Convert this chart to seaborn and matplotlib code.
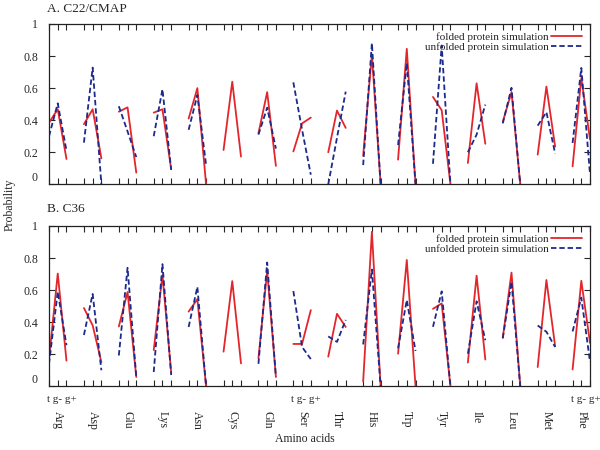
import numpy as np
import pandas as pd
import seaborn as sns
import matplotlib.pyplot as plt

# Data: probability of t / g- / g+ states per amino acid
amino_acids = ['Arg', 'Asp', 'Glu', 'Lys', 'Asn', 'Cys', 'Gln', 'Ser',
               'Thr', 'His', 'Trp', 'Tyr', 'Ile', 'Leu', 'Met', 'Phe']
states = ['t', 'g-', 'g+']
state_label_groups = ['Arg', 'Ser', 'Phe']
nan = np.nan

c22_folded = [[0.385, 0.468, 0.158], [0.375, 0.468, 0.162], [0.453, 0.48, 0.073],
              [0.447, 0.468, 0.094], [0.41, 0.60, 0.0], [0.214, 0.64, 0.173],
              [0.318, 0.575, 0.115], [0.205, 0.38, 0.416], [0.20, 0.46, 0.352],
              [0.178, 0.81, 0.0], [0.154, 0.845, 0.0], [0.545, 0.462, 0.0],
              [0.133, 0.63, 0.253], [0.39, 0.575, 0.0], [0.185, 0.61, 0.235],
              [0.112, 0.663, 0.28]]
c22_unfolded = [[0.30, 0.505, 0.21], [0.26, 0.728, 0.0], [0.487, 0.33, 0.17],
                [0.30, 0.593, 0.09], [0.34, 0.557, 0.12], [nan, nan, nan],
                [0.31, 0.478, 0.223], [0.636, 0.34, 0.06], [0.0, 0.29, 0.578],
                [0.12, 0.88, 0.0], [0.245, 0.757, 0.0], [0.128, 0.866, 0.0],
                [0.2, 0.31, 0.497], [0.38, 0.602, 0.0], [0.366, 0.45, 0.192],
                [0.258, 0.726, 0.06]]
c36_folded = [[0.17, 0.703, 0.16], [0.488, 0.38, 0.15], [0.373, 0.588, 0.058],
              [0.226, 0.694, 0.085], [0.466, 0.543, 0.0], [0.216, 0.656, 0.143],
              [0.175, 0.72, 0.058], [0.264, 0.264, 0.475], [0.185, 0.452, 0.37],
              [0.03, 0.963, 0.0], [0.203, 0.788, 0.0], [0.483, 0.517, 0.0],
              [0.148, 0.69, 0.167], [0.302, 0.709, 0.0], [0.12, 0.663, 0.25],
              [0.105, 0.658, 0.27]]
c36_unfolded = [[0.14, 0.59, 0.256], [0.32, 0.576, 0.10], [0.192, 0.739, 0.058],
                [0.089, 0.762, 0.07], [0.37, 0.62, 0.0], [nan, nan, nan],
                [0.14, 0.772, 0.06], [0.594, 0.245, 0.17], [0.311, 0.277, 0.414],
                [0.261, 0.728, 0.0], [0.237, 0.538, 0.22], [0.371, 0.592, 0.0],
                [0.203, 0.53, 0.287], [0.30, 0.652, 0.0], [0.379, 0.34, 0.245],
                [0.342, 0.553, 0.152]]

FOLD = 'folded protein simulation'
UNFOLD = 'unfolded protein simulation'
red = '#e3262b'
blue = '#1c2a8c'


def make_df(folded, unfolded):
    rows = []
    for label, vals in [(FOLD, folded), (UNFOLD, unfolded)]:
        for i, aa in enumerate(amino_acids):
            for j, st in enumerate(states):
                rows.append({'aa': aa, 'pos': i * 4 + j, 'prob': vals[i][j], 'sim': label})
    return pd.DataFrame(rows).dropna()


sns.set_style('ticks')
plt.rcParams['font.family'] = ['Liberation Serif', 'DejaVu Serif']

fig = plt.figure(figsize=(6, 4.5), dpi=100)
ax_a = fig.add_axes([0.0817, 0.5904, 0.9017, 0.3563])
ax_b = fig.add_axes([0.0817, 0.1416, 0.9017, 0.3563])

ticks_x = [i * 4 + j for i in range(len(amino_acids)) for j in range(3)]

for ax, folded, unfolded in [(ax_a, c22_folded, c22_unfolded), (ax_b, c36_folded, c36_unfolded)]:
    df = make_df(folded, unfolded)
    sns.lineplot(data=df, x='pos', y='prob', hue='sim', style='sim', units='aa',
                 estimator=None, palette={FOLD: red, UNFOLD: blue},
                 dashes={FOLD: '', UNFOLD: (3, 1.6)}, hue_order=[FOLD, UNFOLD],
                 style_order=[FOLD, UNFOLD], linewidth=1.3, ax=ax)
    old = ax.get_legend()
    handles = old.legend_handles
    labels = [t.get_text() for t in old.get_texts()]
    old.remove()
    ax.legend(handles, labels, loc='upper right', frameon=False, markerfirst=False,
              fontsize=8, handlelength=2.8, labelspacing=0.05, borderaxespad=0.3,
              handletextpad=0.2)

    ax.set_xlim(0, 62)
    ax.set_ylim(0, 1)
    ax.set_xticks(ticks_x)
    ax.set_xticklabels([])
    ax.set_yticks([0, 0.2, 0.4, 0.6, 0.8, 1])
    ax.set_yticklabels(['0', '0.2', '0.4', '0.6', '0.8', '1'])
    ax.tick_params(axis='both', direction='in', top=True, right=True, length=4,
                   width=0.8, labelsize=8.5, pad=8)
    ax.tick_params(axis='y', labelright=False)
    ax.get_yticklabels()[0].set_va('bottom')
    ax.set_xlabel('')
    ax.set_ylabel('')
    for s in ax.spines.values():
        s.set_linewidth(0.9)
        s.set_color('#222222')

# bottom labels on panel B
for i, aa in enumerate(amino_acids):
    ax_b.annotate(aa, xy=(i * 4 + 1, 0), xycoords=('data', 'axes fraction'),
                  xytext=(0, -18), textcoords='offset points', rotation=-90,
                  ha='center', va='top', fontsize=8.5)
for aa in state_label_groups:
    i = amino_acids.index(aa)
    ax_b.annotate(' '.join(states), xy=(i * 4, 0), xycoords=('data', 'axes fraction'),
                  xytext=(-1.5, -6), textcoords='offset points',
                  ha='left', va='top', fontsize=8)

fig.text(47 / 600, 1 - 9 / 450, 'A. C22/CMAP', fontsize=9.5, va='center', ha='left')
fig.text(47 / 600, 1 - 209 / 450, 'B. C36', fontsize=9.5, va='center', ha='left')
fig.text(10 / 600, 1 - 205 / 450, 'Probability', fontsize=8.5, rotation=90,
         va='center', ha='center')
fig.text(305 / 600, 1 - 439 / 450, 'Amino acids', fontsize=8.5, va='center', ha='center')

fig.savefig('out.png', dpi=100)
